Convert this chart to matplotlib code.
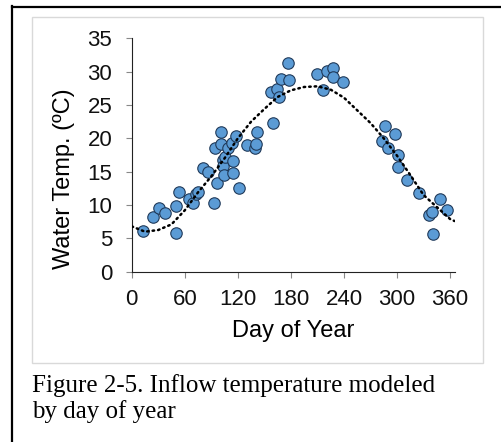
import matplotlib
matplotlib.use("Agg")
import matplotlib.pyplot as plt
from matplotlib.patches import Rectangle
from matplotlib.lines import Line2D

# наблюдения: день года и температура воды
days = [13, 24.5, 31, 37.5, 50, 50, 54, 65, 69.5, 72.5, 74.5, 80.5, 86, 92.5, 94,
        97, 100.6, 101.5, 103.5, 103, 104.5, 106, 109, 113.5, 115, 115, 117.5,
        121.5, 130, 139.5, 141, 141.5, 160, 157.5, 164.5, 167, 169, 176.5, 178,
        210, 216.5, 221, 228, 228, 238.5, 283, 286.5, 289.5, 298, 301.5, 301.5,
        311.5, 325, 336.5, 339, 341, 348.5, 357]
temps = [6.15, 8.15, 9.5, 8.85, 9.8, 5.85, 11.9, 10.9, 10.35, 11.6, 11.9, 15.55,
         14.9, 10.25, 18.55, 13.35, 20.9, 19.15, 16.75, 15.9, 14.45, 17.2, 18.6,
         19.25, 14.75, 16.65, 20.3, 12.55, 19.0, 18.5, 19.15, 20.9, 22.25, 27.0,
         27.35, 26.25, 28.9, 31.25, 28.75, 29.65, 27.3, 30.15, 30.55, 29.2, 28.4,
         19.65, 21.8, 18.6, 20.6, 17.45, 15.65, 13.75, 11.8, 8.5, 9.0, 5.7, 10.9,
         9.3]

# модельная кривая
curve_days = [0, 15, 30, 45, 60, 75, 90, 105, 120, 135, 150, 165, 180, 195, 210,
              225, 240, 255, 270, 285, 300, 315, 330, 345, 360, 365]
curve_temps = [6.8, 6.0, 6.25, 7.1, 9.2, 11.9, 14.3, 17.0, 20.0, 22.5, 24.4, 26.2,
               27.2, 27.7, 27.8, 27.3, 26.1, 24.2, 22.3, 20.0, 17.4, 14.5, 11.5,
               9.7, 7.9, 7.6]

x_ticks = [0, 60, 120, 180, 240, 300, 360]
y_ticks = [0, 5, 10, 15, 20, 25, 30, 35]

W, H = 501, 442
fig = plt.figure(figsize=(W / 100, H / 100), dpi=100)

def fx(px):
    return px / W

def fy(py):
    return 1 - py / H

# рамки
fig.add_artist(Line2D([fx(12), fx(12)], [fy(6), 0], color='black', lw=1.6,
                      transform=fig.transFigure))
fig.add_artist(Line2D([fx(12), 1], [fy(6.5), fy(6.5)], color='black', lw=1.6,
                      transform=fig.transFigure))
fig.add_artist(Rectangle((fx(32), fy(363)), fx(483) - fx(32), fy(17) - fy(363),
                         fill=False, edgecolor='#d9d9d9', lw=1.0,
                         transform=fig.transFigure))

ax = fig.add_axes([fx(131.7), fy(271.7), fx(454.5) - fx(131.7), fy(38.3) - fy(271.7)])
ax.set_zorder(2)

ax.plot(curve_days, curve_temps, color='black', lw=1.8,
        linestyle=(0, (0.6, 1.6)), dash_capstyle='round', zorder=3)
ax.scatter(days, temps, s=68, color='#5b9bd5', edgecolors='#203a5a',
           linewidths=0.8, zorder=2)

ax.set_xlim(0, 365)
ax.set_ylim(0, 35)
ax.set_xticks(x_ticks)
ax.set_yticks(y_ticks)

font = 'Liberation Sans'
for lab in ax.get_xticklabels() + ax.get_yticklabels():
    lab.set_fontfamily(font)
    lab.set_fontsize(16)
    lab.set_color('#111111')

ax.spines['top'].set_visible(False)
ax.spines['right'].set_visible(False)
ax.spines['left'].set_color('#222222')
ax.spines['bottom'].set_color('#222222')
ax.tick_params(axis='y', direction='out', length=4.5, width=0.8, color='#888888', pad=9.5)
ax.tick_params(axis='x', direction='out', length=4, width=0.8, color='#888888', pad=8.5)

ax.set_xlabel('Day of Year', fontfamily=font, fontsize=17, labelpad=7)
ax.set_ylabel('Water Temp. (ºC)', fontfamily=font, fontsize=17)
ax.yaxis.set_label_coords(-0.175, 0.40)

fig.text(fx(32), fy(392), 'Figure 2-5. Inflow temperature modeled',
         fontfamily='Liberation Serif', fontsize=18, va='baseline', ha='left')
fig.text(fx(32), fy(418), 'by day of year',
         fontfamily='Liberation Serif', fontsize=18, va='baseline', ha='left')

fig.savefig('out.png', dpi=100)
